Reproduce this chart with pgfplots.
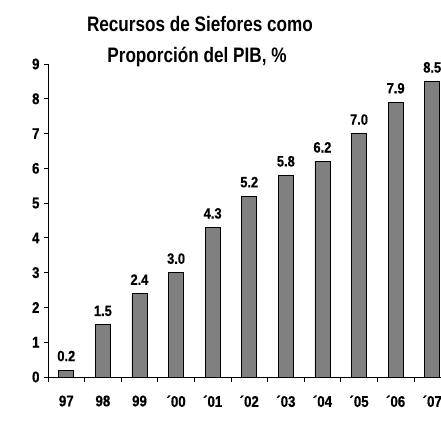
\documentclass[border=0pt]{standalone}
\usepackage{pgfplots}
\pgfplotsset{compat=1.18}
\usepackage{fontspec}
\setmainfont{Liberation Sans}[FakeStretch=0.82]
\newfontfamily\bn{Liberation Sans Bold}[FakeStretch=0.86, FakeBold=0.6]
\definecolor{bargray}{RGB}{128,128,128}
\begin{document}
\begin{tikzpicture}[x=1bp,y=1bp]
\useasboundingbox (0,0) rectangle (441,425);
\node[font=\bfseries\fontsize{21}{25}\selectfont, align=center, anchor=base] at (200,393) {Recursos de Siefores como};
\node[font=\bfseries\fontsize{21}{25}\selectfont, align=center, anchor=base] at (197,363) {Proporción del PIB, \%};
\begin{axis}[
  at={(48bp,48bp)}, anchor=south west,
  scale only axis, width=393bp, height=313bp,
  xmin=-0.5, xmax=10.24, ymin=0, ymax=9,
  axis x line=bottom, axis y line=left,
  axis line style={-, black, line width=0.8pt},
  clip=false,
  ytick={0,1,...,9},
  xtick={0,...,10},
  xticklabels={97,98,99,´00,´01,´02,´03,´04,´05,´06,´07},
  major x tick style={draw=none},
  minor xtick={-0.5,0.5,...,9.5},
  minor tick length=5bp,
  tick align=outside,
  major tick length=4bp,
  tick style={black, line width=0.8pt},
  ticklabel style={font=\bn\fontsize{15.5}{18}\selectfont},
  xticklabel style={yshift=-11bp},
  yticklabel style={xshift=-1bp},
  /pgf/number format/assume math mode=true,
]
\addplot[ybar, bar width=15bp, fill=bargray, draw=black, line width=0.8pt, mark=none,
  nodes near coords,
  every node near coord/.append style={text=black, font=\bn\fontsize{15}{18}\selectfont, yshift=5bp, /pgf/number format/.cd, fixed, fixed zerofill, precision=1, assume math mode=true}]
  coordinates {(0,0.2) (1,1.5) (2,2.4) (3,3.0) (4,4.3) (5,5.2) (6,5.8) (7,6.2) (8,7.0) (9,7.9) (10,8.5)};
\end{axis}
\end{tikzpicture}
\end{document}
